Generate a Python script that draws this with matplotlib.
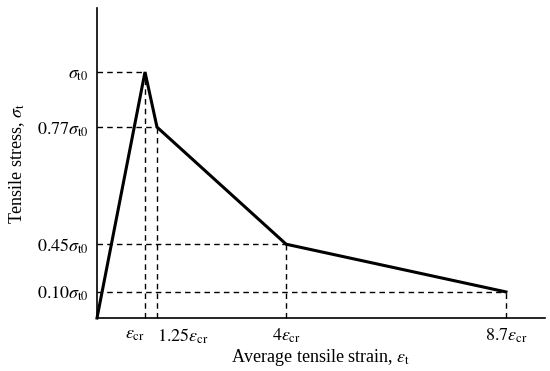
import matplotlib
matplotlib.use('Agg')
import matplotlib.pyplot as plt

plt.rcParams['font.family'] = ['Liberation Serif', 'DejaVu Serif']
plt.rcParams['mathtext.fontset'] = 'stix'

# curve points (x in units of eps_cr, y in units of sigma_t0), as drawn
strain = [0, 1.0, 1.25, 3.94, 8.52]
stress = [0, 1.0, 0.776, 0.30, 0.106]

xtick_labels = [r'$\varepsilon_{\mathrm{cr}}$', r'$1.25\varepsilon_{\mathrm{cr}}$',
                r'$4\varepsilon_{\mathrm{cr}}$', r'$8.7\varepsilon_{\mathrm{cr}}$']
ytick_labels = [r'$\sigma_{\mathrm{t0}}$', r'$0.77\sigma_{\mathrm{t0}}$',
                r'$0.45\sigma_{\mathrm{t0}}$', r'$0.10\sigma_{\mathrm{t0}}$']

W, H = 550, 371
fig = plt.figure(figsize=(W / 100, H / 100), dpi=100)
ax = fig.add_axes([97 / W, 1 - 318 / H, (545 - 97) / W, (318 - 8) / H])
ax.set_xlim(0, (545 - 97) / 48)
ax.set_ylim(0, (318 - 8) / 246)

# dashed guide lines
for x, y in zip(strain[1:], stress[1:]):
    ax.plot([0, x], [y, y], ls=(0, (4, 3)), color='black', lw=1.0, clip_on=False)
    ax.plot([x, x], [0, y], ls=(0, (4, 3)), color='black', lw=1.0, clip_on=False)

ax.plot(strain, stress, color='black', lw=2.2, solid_joinstyle='miter', clip_on=False)

for s in ['top', 'right']:
    ax.spines[s].set_visible(False)
for s in ['left', 'bottom']:
    ax.spines[s].set_linewidth(1.2)

ax.set_xticks(strain[1:])
ax.set_xticklabels(xtick_labels, fontsize=13)
ax.set_yticks(stress[1:])
ax.set_yticklabels(ytick_labels, fontsize=13)
ax.tick_params(length=0, pad=6)
xl = ax.get_xticklabels()
xl[0].set_ha('right')
xl[1].set_ha('left')

ax.set_xlabel(r'Average tensile strain, $\varepsilon_{\mathrm{t}}$', fontsize=13, labelpad=1)
ax.set_ylabel(r'Tensile stress, $\sigma_{\mathrm{t}}$', fontsize=13, labelpad=7)

fig.savefig('out.png', dpi=100)
